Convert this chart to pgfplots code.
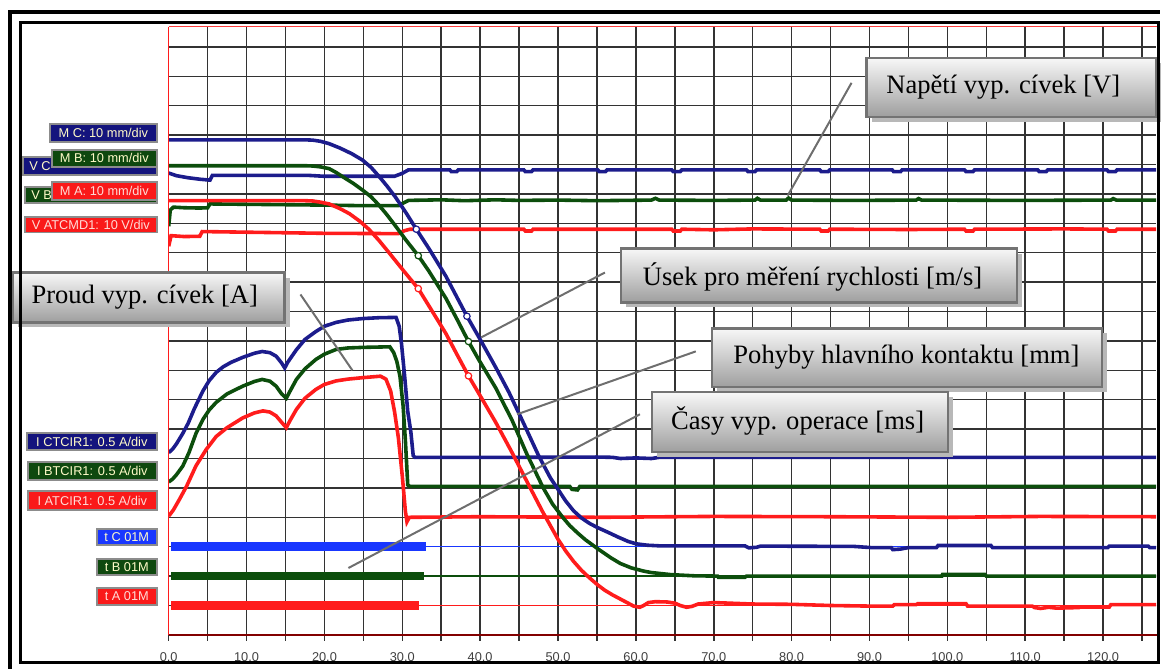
\documentclass[border=0pt]{standalone}
\usepackage{fontspec}
\setmainfont{Liberation Serif}
\newfontfamily\arial{Liberation Sans}
\usepackage{pgfplots}
\pgfplotsset{compat=1.18}

\definecolor{trblue}{RGB}{28,28,140}
\definecolor{trgreen}{RGB}{12,78,12}
\definecolor{trred}{RGB}{255,28,28}
\definecolor{tblue}{RGB}{25,55,255}
\definecolor{axred}{RGB}{130,0,0}
\definecolor{boxnavy}{RGB}{20,20,125}
\definecolor{boxgreen}{RGB}{14,72,14}
\definecolor{boxred}{RGB}{250,25,25}
\definecolor{cream}{RGB}{255,250,200}
\definecolor{pinkish}{RGB}{255,220,215}
\definecolor{leader}{RGB}{110,110,110}

% channel label: x1,y1,x2,y2,fill,text colour,text
\newcommand{\chlabel}[7]{%
  \filldraw[fill=#5, draw=black!45, line width=0.9pt] (#1,#2) rectangle (#3,#4);
  \node[font=\arial\fontsize{6.4}{7}\selectfont, text=#6, inner sep=0pt]
    at ({(#1+#3)/2},{(#2+#4)/2}) {#7};}
% partly hidden channel label, name only at its left end
\newcommand{\chlabelleft}[7]{%
  \filldraw[fill=#5, draw=black!45, line width=0.9pt] (#1,#2) rectangle (#3,#4);
  \node[font=\arial\fontsize{6.4}{7}\selectfont, text=#6, inner sep=0pt, anchor=west]
    at ({#1+6},{(#2+#4)/2}) {#7};}

% grey callout box: x1,y1,x2,y2,text x,text y,text
\newcommand{\callout}[7]{%
  \fill[black!28] (#1+5,#2+5) rectangle (#3+5,#4+5);
  \shade[top color=white!97!black, bottom color=black!38] (#1,#2) rectangle (#3,#4);
  \draw[black!55, line width=1.1pt] (#1,#2) rectangle (#3,#4);
  \node[font=\fontsize{13.3}{15}\selectfont, inner sep=0pt] at (#5,#6) {#7};}

\begin{document}
\begin{tikzpicture}
\begin{scope}[x=0.5pt,y=-0.5pt]
  \useasboundingbox (0,0) rectangle (1162,670);
\end{scope}

\begin{axis}[
  at={(84.5pt,-318pt)}, anchor=south west,
  scale only axis, width=494.5pt, height=304.5pt,
  xmin=0, xmax=126.8, ymin=0, ymax=20.68,
  axis line style={draw=none},
  tick pos=left, tick align=outside,
  xtick={0,10,...,120},
  xticklabels={0.0,10.0,20.0,30.0,40.0,50.0,60.0,70.0,80.0,90.0,100.0,110.0,120.0},
  minor xtick={5,15,...,125},
  ytick={1,2,...,20}, yticklabels={},
  grid=both,
  grid style={black!80, line width=0.75pt},
  major grid style={black!80, line width=0.75pt},
  minor grid style={black!80, line width=0.75pt},
  major tick length=3pt, minor tick length=3pt,
  x tick style={black!80, line width=0.75pt},
  y tick style={draw=none},
  xticklabel style={font=\arial\fontsize{6.4}{7}\selectfont, text=black!75, yshift=-2.5pt},
  /pgf/number format/assume math mode=true,
  clip=true,
  every axis plot/.append style={line width=1.8pt},
]
% coil voltages
\addplot[trblue] coordinates {
 (0,15.71) (1,15.62) (2.5,15.55) (4,15.5) (5.3,15.47) (5.6,15.63) (18,15.63) (20,15.6) (29,15.6)
 (30,15.7) (30.8,15.82) (36.1,15.82) (36.3,15.76) (37,15.76) (37.2,15.82)
 (45.6,15.82) (45.8,15.76) (46.6,15.76) (46.8,15.82) (55.1,15.82) (55.3,15.76) (56.1,15.76) (56.3,15.82)
 (64.6,15.82) (64.8,15.76) (65.7,15.76) (65.9,15.82) (74.2,15.82) (74.4,15.76) (75.3,15.76) (75.5,15.82)
 (83.6,15.82) (83.8,15.76) (84.7,15.76) (84.9,15.82) (92.9,15.82) (93.1,15.76) (94,15.76) (94.2,15.82)
 (102.2,15.82) (102.4,15.76) (103.3,15.76) (103.5,15.82) (111.6,15.82) (111.8,15.76) (112.7,15.76) (112.9,15.82)
 (120.5,15.82) (120.7,15.76) (121.6,15.76) (121.8,15.82) (127,15.82)};
\addplot[trgreen] coordinates {
 (0,13.9) (0.2,14.45) (0.6,14.55) (2,14.53) (4,14.52) (5,14.53) (5.3,14.66) (20,14.62) (25,14.6) (29.5,14.6)
 (30.2,14.7) (30.8,14.78) (35,14.8) (38,14.77) (42,14.8) (45,14.78) (50,14.79) (55,14.77) (62,14.79)
 (62.5,14.85) (63,14.79) (70,14.78) (75.3,14.79) (75.6,14.85) (76,14.79) (79.3,14.79) (79.6,14.86) (80,14.79)
 (88,14.78) (96,14.79) (96.3,14.84) (96.7,14.79) (110,14.78) (121,14.79) (121.3,14.84) (121.7,14.79) (127,14.79)};
\addplot[trred] coordinates {
 (0,13.22) (0.3,13.58) (2,13.55) (4,13.56) (4.3,13.72) (20,13.66) (29.5,13.65) (30.3,13.75) (31,13.8)
 (45.6,13.8) (45.8,13.74) (46.6,13.74) (46.8,13.8) (64.6,13.8) (64.8,13.74) (65.7,13.74) (65.9,13.8)
 (70,13.78) (75,13.81) (83.6,13.8) (83.8,13.74) (84.7,13.74) (84.9,13.8) (95,13.79)
 (102.2,13.8) (102.4,13.74) (103.3,13.74) (103.5,13.8) (115,13.81) (120.5,13.8) (120.7,13.74) (121.6,13.74) (121.8,13.8) (127,13.8)};

% coil currents
\addplot[trblue] coordinates {
 (0,6.2) (0.5,6.32) (1,6.5) (1.8,6.85) (2.5,7.2) (3.3,7.7) (4.4,8.3) (5.2,8.65) (6.1,8.93) (7,9.12)
 (8,9.27) (9.5,9.44) (11,9.58) (12,9.64) (13,9.6) (13.8,9.48) (14.5,9.25) (14.9,9.08) (15.3,9.28)
 (16.4,9.7) (17.5,10.05) (18.9,10.32) (20,10.5) (21.5,10.63) (23,10.71) (24.9,10.76) (27,10.79)
 (29.2,10.8) (29.6,10.5) (29.9,9.9) (30.3,8.8) (30.7,7.6) (31.1,6.9) (31.4,6.1) (31.6,6.04)
 (45,6.04) (55,6.05) (57,6.04) (58,6.0) (60,6.02) (62,6.0) (63,6.04) (90,6.04) (127,6.04)};
\addplot[trgreen] coordinates {
 (0,5.2) (0.5,5.3) (1,5.45) (1.8,5.74) (2.6,6.2) (3.5,6.85) (4.4,7.33) (5.2,7.65) (6.1,7.91) (7.5,8.2)
 (9.5,8.46) (11,8.62) (12,8.69) (13,8.63) (13.8,8.46) (14.5,8.2) (15.1,8.05) (15.6,8.3) (16.4,8.69)
 (17.5,9.05) (18.9,9.37) (20,9.55) (21.5,9.71) (23,9.76) (24.9,9.78) (28.4,9.8) (28.9,9.6) (29.3,9.3)
 (29.7,8.8) (30.1,7.8) (30.4,6.6) (30.7,5.1) (31,5.05) (51.5,5.05) (51.8,4.95) (52.5,4.93) (52.8,5.05) (127,5.05)};
\addplot[trred] coordinates {
 (0,4.04) (0.6,4.25) (1.4,4.62) (2.3,5.06) (3.5,5.75) (4.8,6.3) (6.1,6.75) (7.5,7.05) (9.5,7.38)
 (11,7.55) (12.1,7.62) (13,7.58) (13.8,7.45) (14.6,7.2) (15.1,7.05) (15.6,7.3) (16.4,7.67) (17.5,8.05)
 (18.9,8.35) (20,8.52) (21.5,8.64) (23,8.7) (24.9,8.75) (27.2,8.8) (27.9,8.7) (28.5,8.3) (29,7.6)
 (29.5,6.7) (30,5.4) (30.4,4.2) (30.6,3.85) (30.9,4.0) (40,4.02) (55,4.0) (70,4.03) (85,4.02) (100,4.0)
 (112,4.03) (127,4.02)};

% operating times
\addplot[tblue, line width=0.7pt] coordinates {(33,3) (127,3)};
\addplot[trgreen, line width=0.7pt] coordinates {(32.7,2) (127,2)};
\addplot[trred, line width=0.7pt] coordinates {(32,1) (127,1)};
\addplot[tblue, line width=4.3pt] coordinates {(0.3,3) (33.1,3)};
\addplot[trgreen, line width=4.3pt] coordinates {(0.3,2) (32.8,2)};
\addplot[trred, line width=4.3pt] coordinates {(0.3,1) (32.1,1)};

% main contact travel
\addplot[trblue] coordinates {
 (0,16.84) (17.5,16.84) (18.5,16.83) (19.5,16.79) (20.6,16.71) (22,16.56) (23.5,16.37) (24.9,16.15)
 (26,15.9) (27,15.6) (28,15.28) (29.1,14.9) (30.5,14.35) (31.8,13.8) (33.4,13.15) (35.6,12.2)
 (38.3,10.84) (40,10.05) (42,9.1) (43.7,8.25) (45.4,7.3) (47.5,6.1) (49,5.35) (50,4.95) (51,4.55)
 (52,4.22) (53,3.98) (54,3.8) (55,3.66) (56.5,3.48) (57.7,3.33) (59,3.18) (60,3.1) (61.5,3.05)
 (63,3.03) (74,3.03) (74.5,2.96) (75.5,2.98) (76,3.02) (88,3.01) (90.2,2.97) (92.8,2.97) (93,2.9)
 (94,2.92) (95,2.97) (98.6,2.97) (98.8,3.04) (105.6,3.04) (105.8,2.97) (120.6,2.97) (120.8,3.02)
 (125.8,3.02) (126,2.97) (127,2.97)};
\addplot[trgreen] coordinates {
 (0,15.96) (17.5,15.96) (18.5,15.95) (19.5,15.92) (20.6,15.86) (21.5,15.73) (22.5,15.56) (23.7,15.36)
 (24.9,15.13) (26,14.9) (27,14.62) (28,14.3) (29.1,13.92) (30.5,13.42) (32.05,12.9) (33.4,12.38)
 (35.6,11.45) (37,10.75) (38.5,9.98) (39.8,9.37) (42,8.4) (44.1,7.3) (46,6.15) (48.1,5.0) (49.3,4.45)
 (50.6,4.0) (51.5,3.72) (52.5,3.47) (53.5,3.24) (55,2.95) (56.8,2.62) (58,2.43) (59.4,2.28) (61,2.17)
 (62,2.12) (64.5,2.05) (67.5,2.01) (70.5,2.0) (70.6,1.96) (74,1.96) (74.2,2.0) (99.3,2.0) (99.4,2.06)
 (104.8,2.06) (105,2.0) (127,2.0)};
\addplot[trred] coordinates {
 (0,14.77) (17.5,14.77) (18.5,14.76) (19.5,14.72) (20.6,14.66) (22,14.5) (23.2,14.33) (24.5,14.08)
 (25.7,13.8) (27,13.42) (28.3,13.0) (29.3,12.67) (30.4,12.31) (32.05,11.78) (33.4,11.2) (35.6,10.25)
 (37,9.55) (38.5,8.81) (40.3,8.0) (42,7.23) (44,6.25) (46,5.22) (48,4.2) (50,3.25) (51,2.85) (52,2.5)
 (53,2.2) (54,1.95) (55,1.72) (56,1.52) (57,1.36) (58,1.22) (59,1.08) (59.7,0.98) (60.5,0.94) (61,1.0)
 (61.6,1.1) (62.5,1.13) (64,1.12) (65,1.08) (65.7,1.0) (66.5,0.94) (67.2,0.97) (68,1.05) (70,1.1)
 (72,1.08) (75,1.05) (80,1.04) (85,1.0) (90,0.98) (93,0.98) (93.2,1.03) (96,1.03) (96.2,1.06)
 (102.4,1.06) (102.6,0.98) (110.9,0.98) (111.2,0.93) (112,0.9) (113,0.94) (114,0.91) (116.9,0.93)
 (117,0.95) (120.8,0.95) (121,1.03) (127,1.03)};

% speed measurement window
\addplot[only marks, mark=*, mark size=1.6pt, mark options={fill=white, draw=trblue, line width=0.6pt}]
  coordinates {(31.8,13.8) (38.3,10.84)};
\addplot[only marks, mark=*, mark size=1.6pt, mark options={fill=white, draw=trgreen, line width=0.6pt}]
  coordinates {(32.05,12.9) (38.5,9.98)};
\addplot[only marks, mark=*, mark size=1.6pt, mark options={fill=white, draw=trred, line width=0.6pt}]
  coordinates {(32.05,11.78) (38.5,8.81)};
\end{axis}

\begin{scope}[x=0.5pt,y=-0.5pt]
  % plot borders
  \draw[trred, line width=0.6pt] (169,27) -- (169,636);
  \draw[trred!85, line width=0.45pt] (169,27) -- (1160,27);
  \draw[axred, line width=1.1pt] (169,636) -- (1160,636);

  % channel labels
  \chlabel{50}{124}{157}{142}{boxnavy}{cream}{M C: 10 mm/div}
  \chlabelleft{23}{157}{157}{175}{boxnavy}{cream}{V C}
  \chlabel{52}{150}{157}{167}{boxgreen}{cream}{M B: 10 mm/div}
  \chlabelleft{25}{187}{157}{203}{boxgreen}{cream}{V B}
  \chlabel{52}{182}{157}{200}{boxred}{pinkish}{M A: 10 mm/div}
  \chlabel{25}{217}{157}{233}{boxred}{pinkish}{V ATCMD1: 10 V/div}
  \chlabel{27}{434}{157}{451}{boxnavy}{cream}{I CTCIR1: 0.5 A/div}
  \chlabel{28}{463}{157}{481}{boxgreen}{cream}{I BTCIR1: 0.5 A/div}
  \chlabel{28}{492}{157}{511}{boxred}{pinkish}{I ATCIR1: 0.5 A/div}
  \chlabel{97}{530}{157}{546}{tblue}{cream}{t C 01M}
  \chlabel{97}{560}{157}{576}{boxgreen}{cream}{t B 01M}
  \chlabel{97}{589}{157}{606}{boxred}{pinkish}{t A 01M}

  % leader lines
  \draw[leader, line width=1pt] (853,83) -- (789,196);
  \draw[leader, line width=1pt] (606,273) -- (482,338);
  \draw[leader, line width=1pt] (697,352) -- (518,415);
  \draw[leader, line width=1pt] (641,415) -- (349,569);
  \draw[leader, line width=1pt] (301,295) -- (353,371);

  % callouts
  \callout{868}{58}{1158}{117}{1005}{87}{Napětí vyp. cívek [V]}
  \callout{622}{249}{1019}{303}{814}{277}{Úsek pro měření rychlosti [m/s]}
  \callout{713}{329}{1104}{388}{908}{358}{Pohyby hlavního kontaktu [mm]}
  \callout{653}{393}{950}{453}{799}{422}{Časy vyp. operace [ms]}
  \callout{13}{273}{285}{323}{145}{298}{Proud vyp. cívek [A]}

  % frame
  \draw[black, line width=1.5pt] (21,23) rectangle (1160,663.5);
  \draw[black, line width=2pt] (10,670) -- (10,12) -- (1162,12);
\end{scope}
\end{tikzpicture}
\end{document}
